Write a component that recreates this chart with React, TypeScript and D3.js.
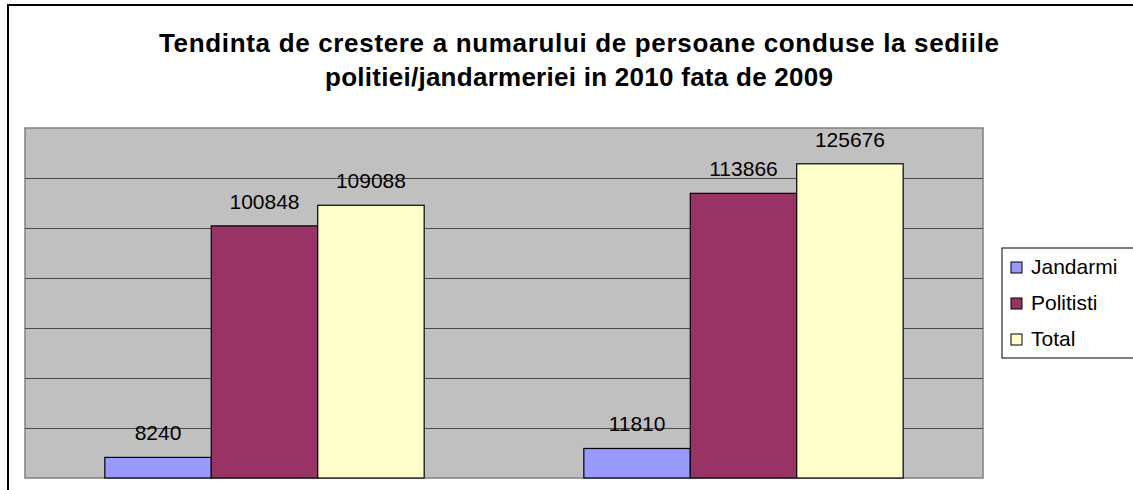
import React from 'react';
import * as d3 from 'd3';

const categories = ['2009', '2010'];
const seriesNames = ['Jandarmi', 'Politisti', 'Total'];
const jandarmi = [8240, 11810];
const politisti = [100848, 113866];
const total = [109088, 125676];
const seriesColors = ['#9999FF', '#993366', '#FFFFCC'];
const yTicks = [0, 20000, 40000, 60000, 80000, 100000, 120000, 140000];
const titleLines = [
  'Tendinta de crestere a numarului de persoane conduse la sediile',
  'politiei/jandarmeriei in 2010 fata de 2009',
];
const titleWidths = [840, 508];

const App = () => {
  const width = 1133;
  const height = 490;
  const plot = { left: 25, top: 128, right: 983, bottom: 478 };

  const values = [jandarmi, politisti, total];

  const xScale = d3.scaleBand<string>()
    .domain(categories)
    .range([plot.left, plot.right]);

  // Excel-style 150% gap between groups
  const inner = d3.scaleBand<string>()
    .domain(seriesNames)
    .range([0, xScale.bandwidth()])
    .paddingInner(0)
    .paddingOuter(0.75);

  const yScale = d3.scaleLinear()
    .domain([0, 140000])
    .range([plot.bottom, plot.top]);

  const font = 'Arial, "Liberation Sans", Helvetica, sans-serif';

  return (
    <svg
      width={width}
      height={height}
      style={{ position: 'absolute', left: 0, top: 0, display: 'block', background: '#fff' }}
      fontFamily={font}
    >
      {/* outer chart border */}
      <rect x={8} y={5} width={1140} height={500} fill="#fff" stroke="#000" strokeWidth={2} />

      {/* title */}
      {titleLines.map((t, i) => (
        <text
          key={i}
          x={579}
          y={52 + i * 34}
          textAnchor="middle"
          fontSize={26}
          fontWeight="bold"
          fill="#000"
          textLength={titleWidths[i]}
          lengthAdjust="spacing"
        >
          {t}
        </text>
      ))}

      {/* plot area */}
      <rect
        x={plot.left}
        y={plot.top}
        width={plot.right - plot.left}
        height={plot.bottom - plot.top}
        fill="#C0C0C0"
        stroke="#808080"
        strokeWidth={1.5}
      />
      {yTicks.slice(1, -1).map(t => (
        <line
          key={t}
          x1={plot.left}
          x2={plot.right}
          y1={Math.round(yScale(t)) + 0.5}
          y2={Math.round(yScale(t)) + 0.5}
          stroke="#4a4a4a"
          strokeWidth={1.2}
        />
      ))}

      {/* bars */}
      {categories.map((c, ci) => (
        <g key={c} transform={`translate(${xScale(c)},0)`}>
          {seriesNames.map((s, si) => {
            const v = values[si][ci];
            const x = inner(s) as number;
            const y = yScale(v);
            return (
              <g key={s}>
                <rect
                  x={x}
                  y={y}
                  width={inner.bandwidth()}
                  height={plot.bottom - y}
                  fill={seriesColors[si]}
                  stroke="#000"
                  strokeWidth={1.2}
                />
                <text
                  x={x + inner.bandwidth() / 2}
                  y={y - 17}
                  textAnchor="middle"
                  fontSize={21}
                  fill="#000"
                >
                  {v}
                </text>
              </g>
            );
          })}
        </g>
      ))}

      {/* legend */}
      <rect x={1002} y={248} width={140} height={110} fill="#fff" stroke="#000" strokeWidth={1} />
      {seriesNames.map((s, i) => (
        <g key={s} transform={`translate(1011,${267 + i * 36})`}>
          <rect x={0} y={-5} width={11} height={11} fill={seriesColors[i]} stroke="#000" strokeWidth={1} />
          <text x={20} y={7} fontSize={21} fill="#000">{s}</text>
        </g>
      ))}
    </svg>
  );
};

export default App;
